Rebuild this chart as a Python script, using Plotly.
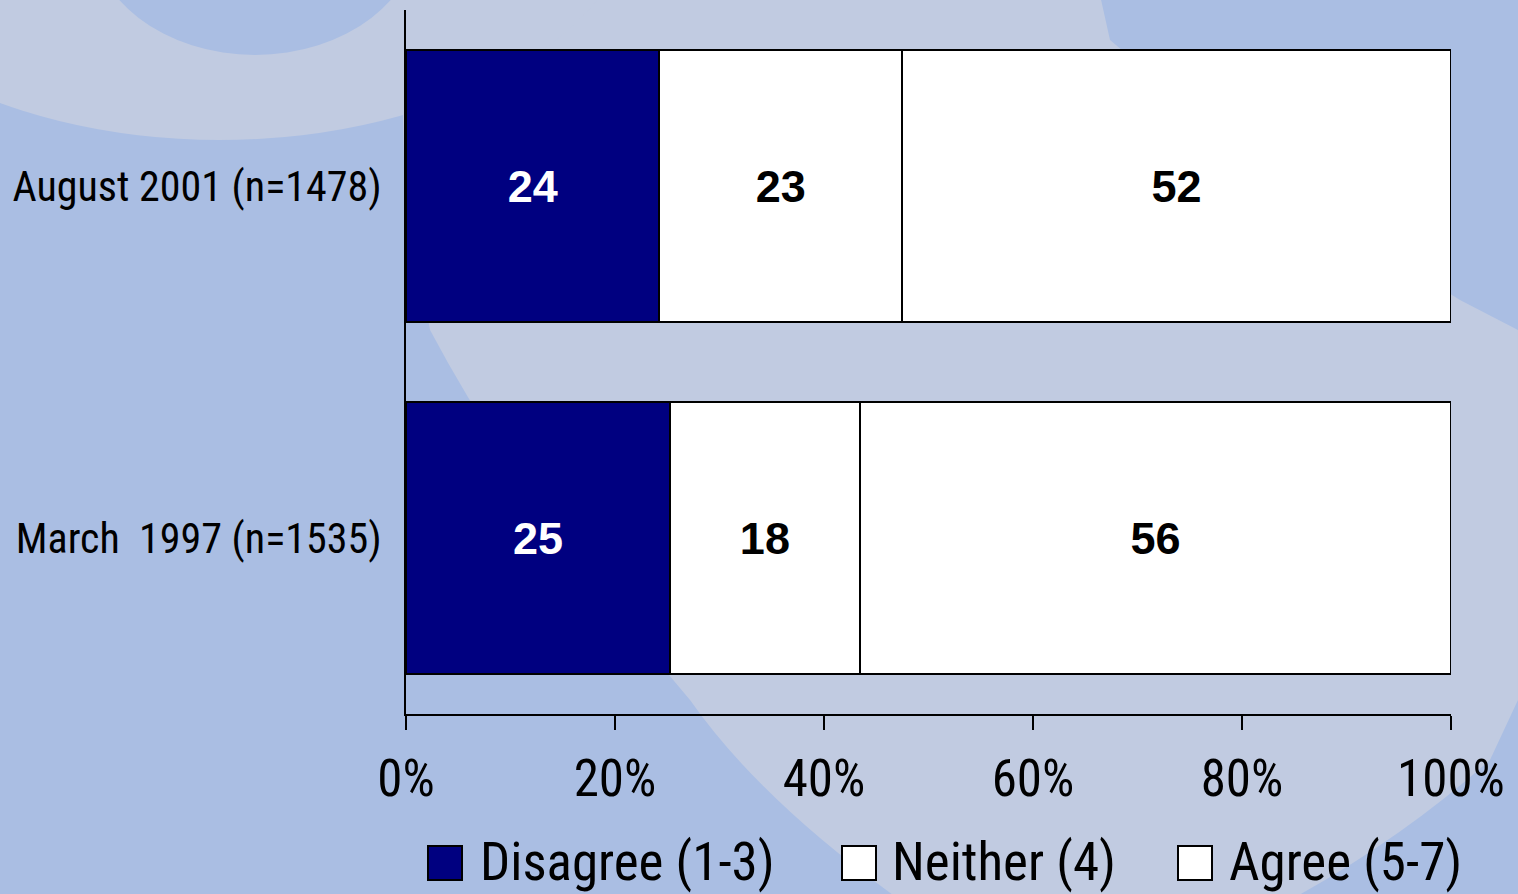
import plotly.graph_objects as go

# Survey waves, top to bottom
categories = ["August 2001 (n=1478)", "March\u00a0 1997 (n=1535)"]
series_names = ["Disagree (1-3)", "Neither (4)", "Agree (5-7)"]
disagree = [24, 25]
neither = [23, 18]
agree = [52, 56]
tick_vals = [0, 20, 40, 60, 80, 100]
tick_text = ["0%", "20%", "40%", "60%", "80%", "100%"]

NAVY = "#000080"
BASE_BG = "#aabee3"
LIGHT_BG = "#c1cbe1"
NARROW = "Roboto Condensed, Arial Narrow, DejaVu Sans Condensed, sans-serif"

W, H = 1518, 894
ML, MR, MT, MB = 406, 67, 10, 180
PW, PH = W - ML - MR, H - MT - MB


def px(x):
    return (x - ML) / PW


def py(y):
    return (H - MB - y) / PH


fig = go.Figure()

fills = [NAVY, "white", "white"]
text_colors = ["white", "black", "black"]
for name, vals, fc, tc in zip(series_names, [disagree, neither, agree], fills, text_colors):
    fig.add_trace(go.Bar(
        y=categories, x=vals, name=name, orientation="h",
        marker=dict(color=fc, line=dict(color="black", width=2)),
        text=vals, texttemplate="%{text}", textposition="inside",
        insidetextanchor="middle", textangle=0,
        textfont=dict(family="Liberation Sans, Arial, sans-serif", size=45,
                      color=tc, weight="bold"),
        showlegend=False, hoverinfo="skip",
    ))

# Background swirl: light ring top-left and a broad light sweep behind the plot
def path(points):
    d = "M {:.4f},{:.4f}".format(px(points[0][0]), py(points[0][1]))
    for seg in points[1:]:
        if len(seg) == 2:
            d += " L {:.4f},{:.4f}".format(px(seg[0]), py(seg[1]))
        else:
            d += " Q {:.4f},{:.4f} {:.4f},{:.4f}".format(px(seg[0]), py(seg[1]), px(seg[2]), py(seg[3]))
    return d + " Z"


shapes = [
    dict(type="path", xref="paper", yref="paper", layer="below", line=dict(width=0),
         fillcolor=LIGHT_BG,
         path=path([(400, -5), (1100, -5), (1110, 40), (1300, 200), (1460, 300),
                    (1518, 330), (1518, 700), (1490, 760), (1400, 840, 1290, 900),
                    (900, 900), (760, 800, 690, 700), (520, 500, 430, 330),
                    (405, 200)])),
    dict(type="circle", xref="paper", yref="paper", layer="below", line=dict(width=0),
         fillcolor=LIGHT_BG,
         x0=px(-200), x1=px(640), y0=py(-360), y1=py(140)),
    dict(type="circle", xref="paper", yref="paper", layer="below", line=dict(width=0),
         fillcolor=BASE_BG,
         x0=px(90), x1=px(420), y0=py(-200), y1=py(55)),
]

# Legend drawn as swatches with labels
legend_items = [(428, 478), (842, 890), (1178, 1227)]
annotations = []
for (sx, tx), name, fc in zip(legend_items, series_names, fills):
    shapes.append(dict(type="rect", xref="paper", yref="paper", layer="above",
                       x0=px(sx), x1=px(sx + 34), y0=py(880), y1=py(846),
                       fillcolor=fc, line=dict(color="black", width=2)))
    annotations.append(dict(x=px(tx), y=py(862), xref="paper", yref="paper",
                            text=name, showarrow=False, xanchor="left", yanchor="middle",
                            font=dict(family=NARROW, size=53, color="black")))

fig.update_layout(
    width=W, height=H, autosize=False,
    margin=dict(l=ML, r=MR, t=MT, b=MB, pad=0),
    paper_bgcolor=BASE_BG, plot_bgcolor="rgba(0,0,0,0)",
    barmode="stack", barnorm="percent", bargap=0.227,
    shapes=shapes, annotations=annotations,
    xaxis=dict(range=[0, 100], tickvals=tick_vals, ticktext=tick_text,
               showline=True, linecolor="black", linewidth=2,
               ticks="outside", ticklen=14, tickwidth=2, tickcolor="black",
               showgrid=False, zeroline=False, ticklabelstandoff=5, automargin=False,
               tickfont=dict(family=NARROW, size=51, color="black")),
    yaxis=dict(autorange="reversed", showline=True, linecolor="black", linewidth=2,
               ticks="", showgrid=False, zeroline=False, ticklabelstandoff=14,
               automargin=False,
               tickfont=dict(family=NARROW, size=42, color="black")),
)

fig.write_html("out.html")
